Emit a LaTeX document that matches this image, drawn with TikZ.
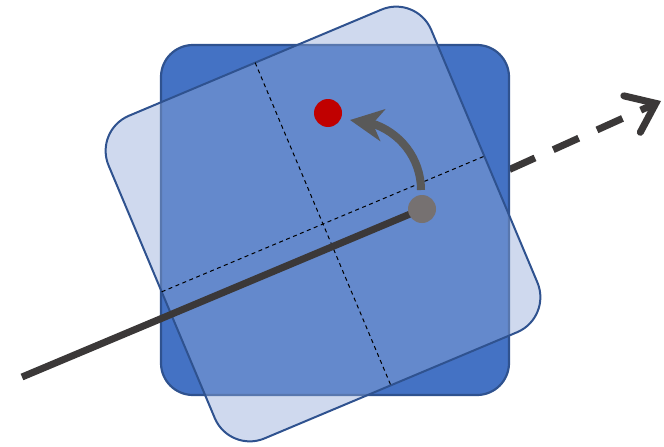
\documentclass[tikz,border=0pt]{standalone}
\usetikzlibrary{arrows.meta,bending}
\definecolor{darkblue}{HTML}{4472C4}
\definecolor{edgeblue}{HTML}{2F528F}
\definecolor{lightfill}{RGB}{143,168,215}
\definecolor{linegray}{HTML}{3B3838}
\definecolor{arcgray}{HTML}{595959}
\definecolor{dotgray}{HTML}{767171}
\definecolor{dotred}{HTML}{C00000}
\tikzset{
  sq/.style={rounded corners=32pt, line width=2.2pt, draw=edgeblue},
  midline/.style={black, line width=1pt, dash pattern=on 4pt off 3.5pt},
  dotnode/.style={circle, inner sep=0pt, minimum size=28pt},
}
\begin{document}
\begin{tikzpicture}[x=1pt,y=-1pt]
\useasboundingbox (0,0) rectangle (664,447);
\coordinate (gc) at (422,209);
\coordinate (s) at (22,377);
\coordinate (e) at (661,101);
% dashed continuation behind the squares
\draw[linegray, line width=7pt, dash pattern=on 28pt off 20pt,
  -{Straight Barb[length=26pt, width=40pt, line cap=round]}] (gc) -- (e);
% fixed square
\draw[sq, fill=darkblue] (161,45) rectangle (509,395);
% rotated square
\begin{scope}[shift={(323,224)}, rotate=22.8]
  \draw[sq, rounded corners=38pt, line width=2pt, fill=lightfill, fill opacity=0.43] (-175,-175) rectangle (175,175);
  \draw[midline] (-175,0) -- (175,0);
  \draw[midline] (0,-175) -- (0,175);
\end{scope}
\draw[linegray, line width=7pt] (s) -- (gc);
\coordinate (a0) at (421,190);
\node[dotnode, fill=dotred] (r) at (328,113) {};
\coordinate (a1) at (350,120);
\draw[arcgray, line width=8pt, -{Stealth[length=33pt, width=32pt, inset=10pt]}]
  (a0) .. controls (421,151) and (389,120) .. (a1);
\node[dotnode, fill=dotgray] (g) at (gc) {};
\end{tikzpicture}
\end{document}
